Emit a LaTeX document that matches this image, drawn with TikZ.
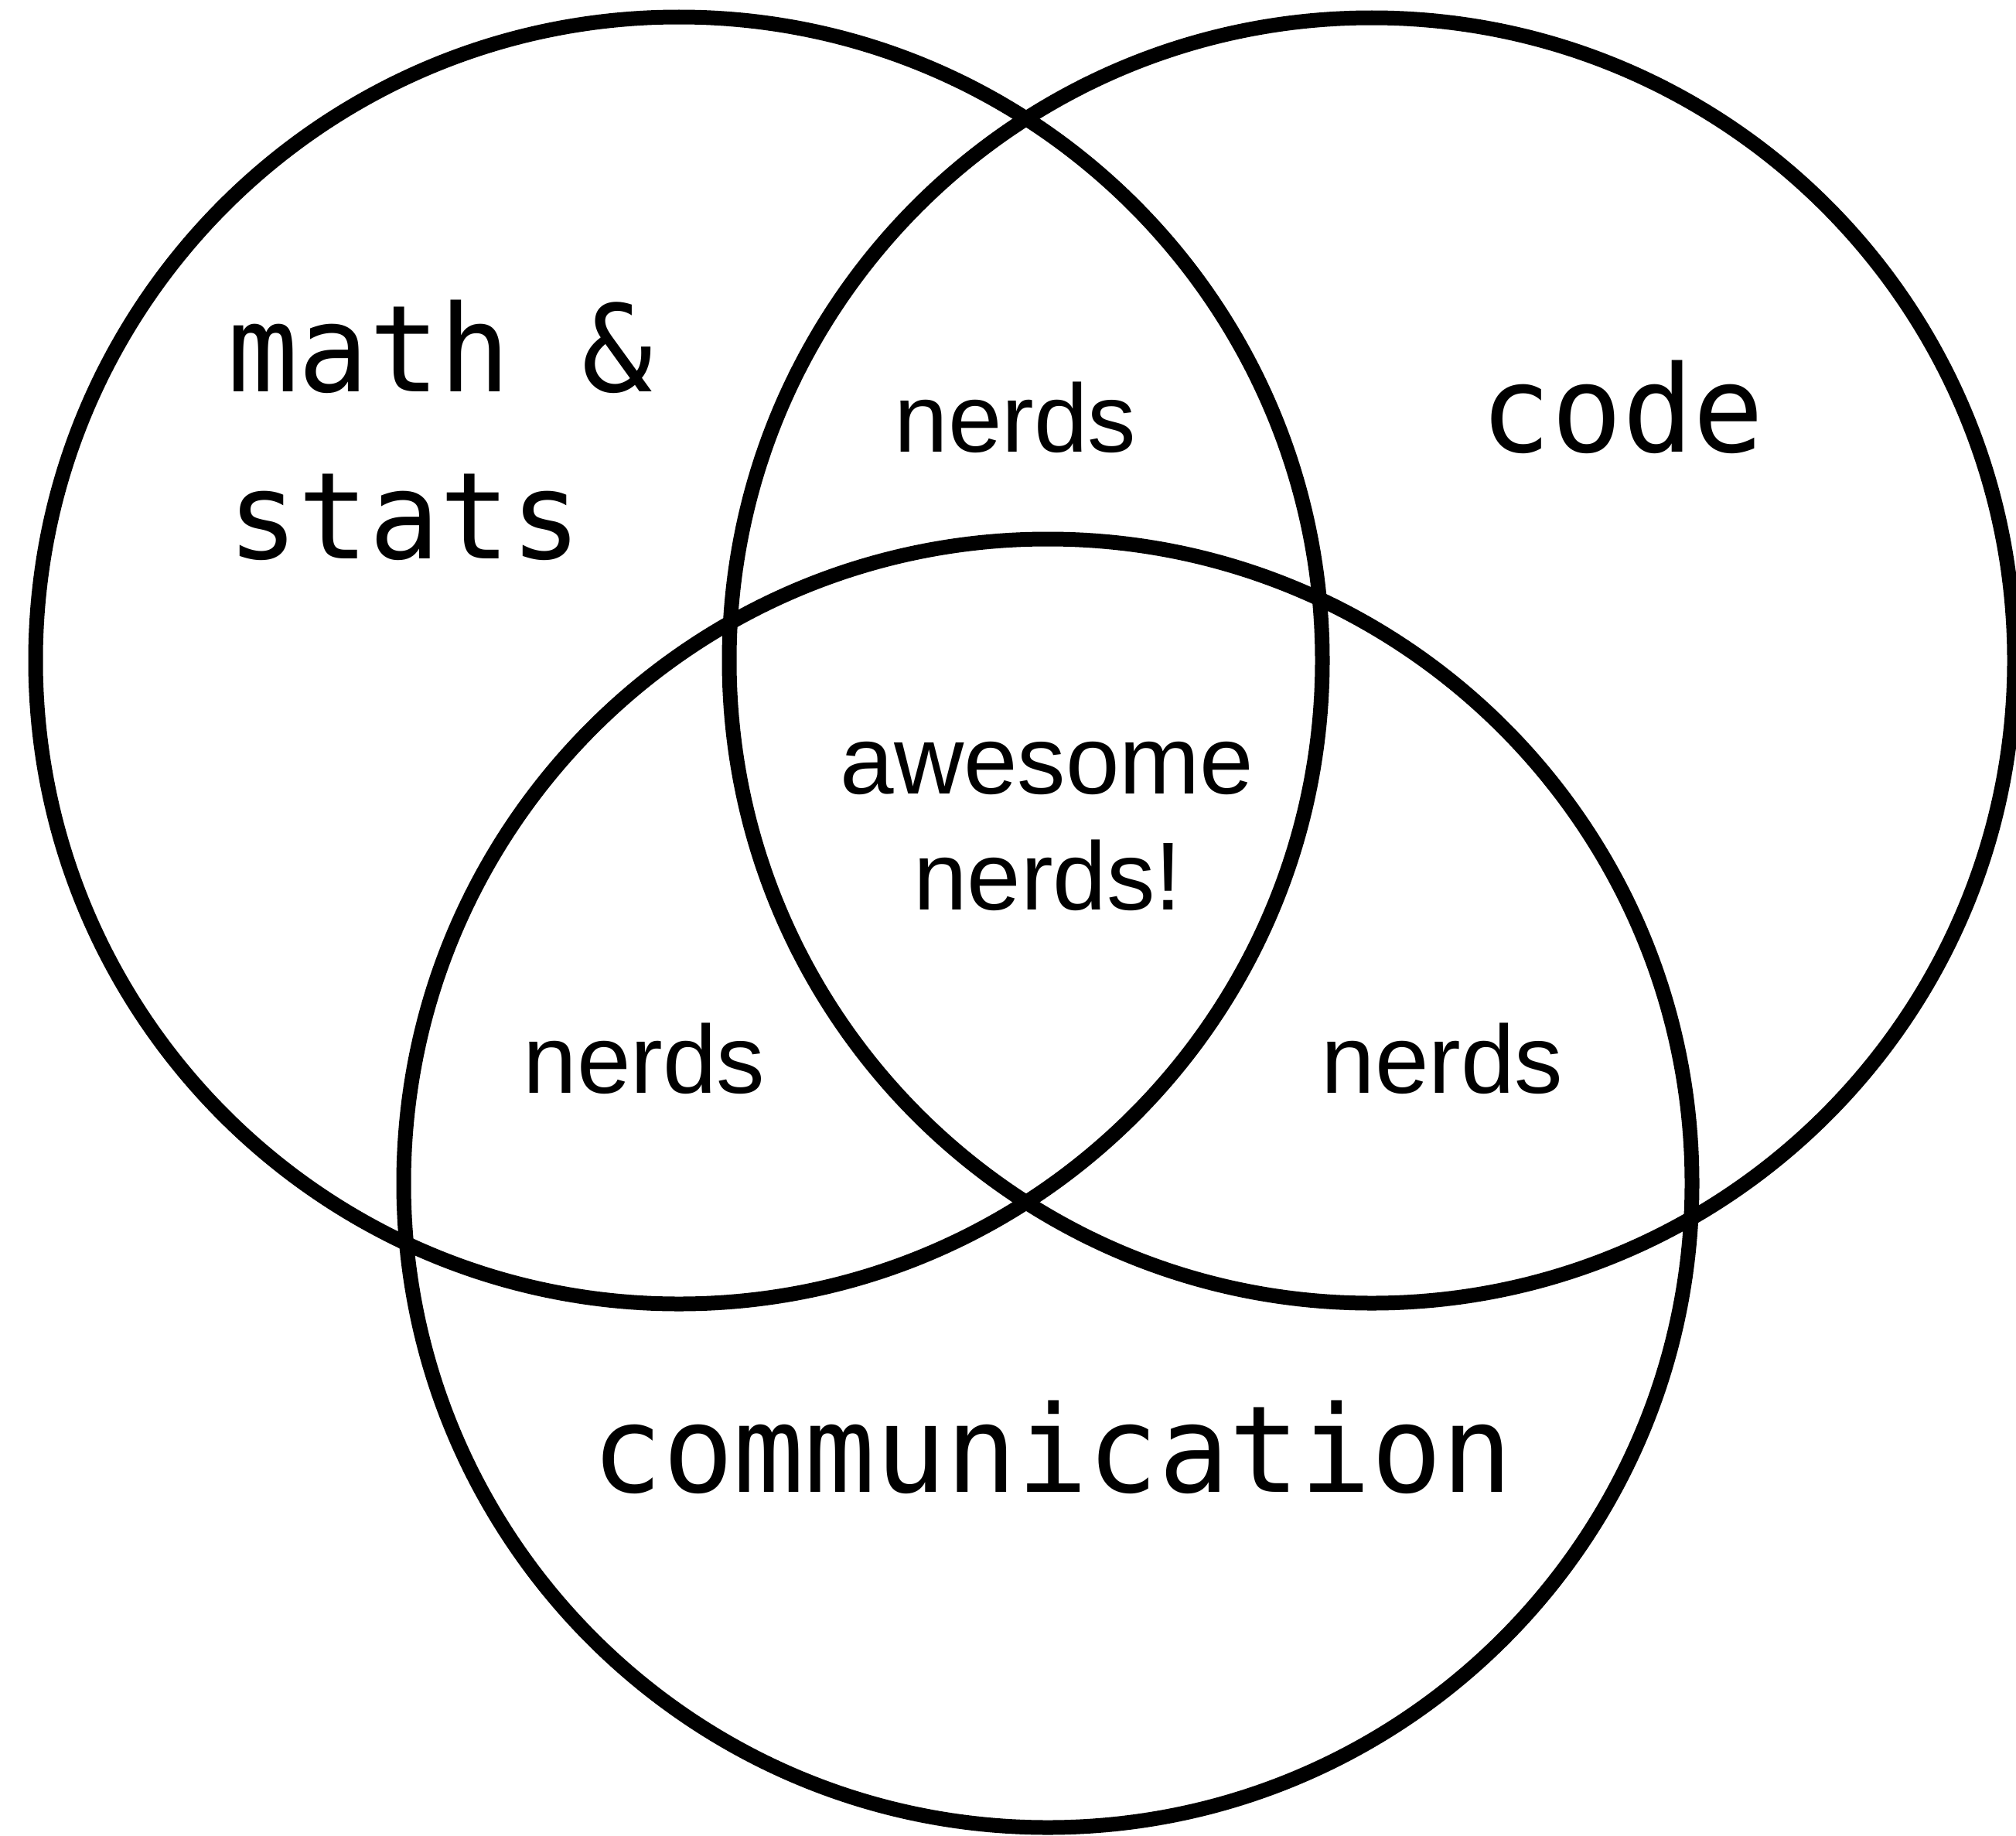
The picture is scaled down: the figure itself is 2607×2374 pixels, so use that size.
\documentclass[tikz,border=0pt]{standalone}
\usepackage{fontspec}
\newfontfamily\monof[FakeStretch=0.975]{DejaVu Sans Mono}
\newfontfamily\sansf{Liberation Sans}
\begin{document}
\begin{tikzpicture}[x=1pt,y=-1pt,
  ring/.style={draw=black,line width=19pt},
  monolabel/.style={inner sep=0pt,font=\monof\fontsize{156}{216}\selectfont},
  sanslabel/.style={inner sep=0pt,font=\sansf\fontsize{125}{150}\selectfont}]
\useasboundingbox (0,0) rectangle (2607,2374);
\fill[white] (0,0) rectangle (2607,2374);
\node[ring,circle,minimum size=1664pt,inner sep=0pt] (cmath) at (878,854) {};
\node[ring,circle,minimum size=1662pt,inner sep=0pt] (ccode) at (1774,854) {};
\node[ring,circle,minimum size=1666pt,inner sep=0pt] (ccomm) at (1355,1530) {};
\node[monolabel,anchor=base west] (mathA) at (294,506) {math \&};
\node[monolabel,anchor=base west] (mathB) at (294,722) {stats};
\node[monolabel,anchor=base] (code) at (2098,584) {code};
\node[monolabel,anchor=base] (comm) at (1361,1929) {communication};
\node[sanslabel,anchor=base] (nerdsTop) at (1313,584) {nerds};
\node[sanslabel,anchor=base] (nerdsLeft) at (833,1413) {nerds};
\node[sanslabel,anchor=base] (nerdsRight) at (1865,1413) {nerds};
\node[sanslabel,anchor=base] (awesA) at (1354,1026) {awesome};
\node[sanslabel,anchor=base] (awesB) at (1355,1176) {nerds!};
\end{tikzpicture}
\end{document}
